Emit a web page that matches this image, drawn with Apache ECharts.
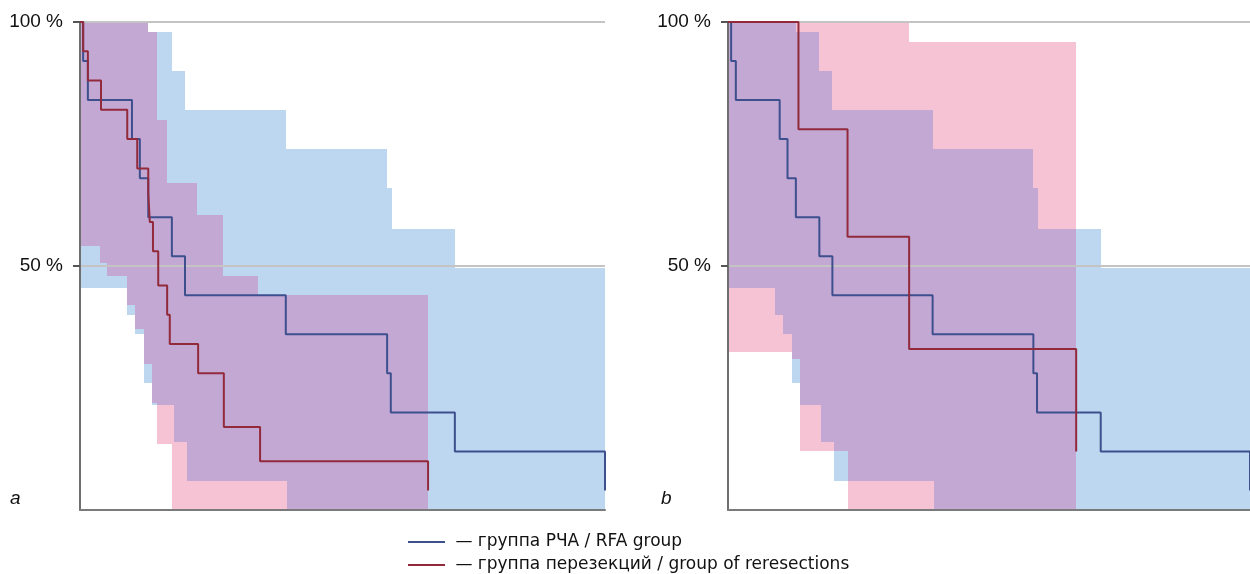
<!DOCTYPE html>
<html>

<head>
    <meta charset="utf-8" />
    <title>Survival</title>
    <script src="https://cdn.jsdelivr.net/npm/echarts@6.0.0/dist/echarts.min.js"></script>
</head>

<body style="margin:0">
    <div id="main" style="width:1250px;height:574px;"></div>

    <script type="text/javascript">
        // Kaplan-Meier steps: [time, survival %]; time is in arbitrary units (0..100)
        var rfaCurve = [[0, 100], [0.6, 92], [1.5, 84], [9.9, 76], [11.4, 68], [13.0, 60], [17.5, 52], [20.0, 44],
            [39.2, 36], [58.5, 28], [59.2, 20], [71.4, 12], [100, 4]];
        var reCurveA = [[0, 100], [0.6, 94], [1.5, 88], [4.0, 82], [9.0, 76], [10.9, 70], [13.0, 65], [13.3, 59],
            [13.9, 53], [14.9, 46], [16.6, 40], [17.1, 34], [22.5, 28], [27.4, 17], [34.3, 10], [66.3, 4]];
        var reCurveB = [[0, 100], [13.5, 78], [22.9, 56], [34.7, 33], [66.7, 12]];

        // confidence bands as steps: [time, bound %], each one holds until the next time
        var rfaUpper = [[0, 100], [13.0, 98], [17.5, 90], [20.0, 82], [39.2, 74], [58.5, 66], [59.4, 57.5], [71.4, 49.5]];
        var rfaLower = [[0, 45.5], [9.0, 40], [10.5, 36], [12.2, 26], [13.7, 21.5], [17.9, 14], [20.4, 6], [39.4, 0]];
        var rfaEnd = 100;

        var reUpperA = [[0, 100], [13.0, 98], [14.7, 80], [16.6, 67], [22.3, 60.5], [27.2, 48], [33.9, 44]];
        var reLowerA = [[0, 54], [3.8, 50.6], [5.1, 48], [9.0, 42], [10.5, 37], [12.2, 30], [13.7, 22], [14.7, 13.5], [17.5, 0]];
        var reEndA = 66.3;

        var reUpperB = [[0, 100], [34.7, 96]];
        var reLowerB = [[0, 32.4], [12.2, 31], [13.7, 12], [22.9, 0]];
        var reEndB = 66.7;

        var nameRfa = 'группа РЧА / RFA group';
        var nameRe = 'группа перезекций / group of reresections';

        var FONT = "'Liberation Sans', Arial, sans-serif";

        function stepAt(steps, x) {
            var v = steps[0][1];
            for (var i = 0; i < steps.length; i++) {
                if (steps[i][0] <= x) v = steps[i][1];
            }
            return v;
        }

        function breakpoints(lists, end) {
            var xs = [];
            lists.forEach(function (steps) {
                steps.forEach(function (p) {
                    if (p[0] < end && xs.indexOf(p[0]) < 0) xs.push(p[0]);
                });
            });
            xs.sort(function (a, b) { return a - b; });
            xs.push(end);
            return xs;
        }

        // turn upper/lower steps into [x0, x1, lo, hi] boxes
        function bandRects(upper, lower, end) {
            var xs = breakpoints([upper, lower], end);
            var out = [];
            for (var i = 0; i < xs.length - 1; i++) {
                out.push([xs[i], xs[i + 1], stepAt(lower, xs[i]), stepAt(upper, xs[i])]);
            }
            return out;
        }

        // where both bands cover the same place
        function overlapRects(uA, lA, endA, uB, lB, endB) {
            var end = Math.min(endA, endB);
            var xs = breakpoints([uA, lA, uB, lB], end);
            var out = [];
            for (var i = 0; i < xs.length - 1; i++) {
                var x = xs[i];
                var hi = Math.min(stepAt(uA, x), stepAt(uB, x));
                var lo = Math.max(stepAt(lA, x), stepAt(lB, x));
                if (hi > lo) out.push([x, xs[i + 1], lo, hi]);
            }
            return out;
        }

        function renderBand(color) {
            return function (params, api) {
                var p0 = api.coord([api.value(0), api.value(3)]);
                var p1 = api.coord([api.value(1), api.value(2)]);
                var x = Math.round(p0[0]), y = Math.round(p0[1]);
                return {
                    type: 'rect',
                    shape: { x: x, y: y, width: Math.round(p1[0]) - x, height: Math.round(p1[1]) - y },
                    style: { fill: color }
                };
            };
        }

        var pinkFill = '#f5c3d3';
        var blueFill = '#bed7f0';
        var purpleFill = '#c3a8d4';
        var blueLine = '#3e4f8e';
        var redLine = '#932a3c';

        function band(idx, rects, color, z) {
            return {
                type: 'custom',
                xAxisIndex: idx,
                yAxisIndex: idx,
                renderItem: renderBand(color),
                data: rects,
                encode: { x: [0, 1], y: [2, 3] },
                silent: true,
                clip: true,
                z: z
            };
        }

        function curve(idx, name, data, color) {
            return {
                type: 'line',
                name: name,
                xAxisIndex: idx,
                yAxisIndex: idx,
                step: 'end',
                symbol: 'none',
                data: data,
                lineStyle: { color: color, width: 2 },
                itemStyle: { color: color },
                silent: true,
                z: 5
            };
        }

        function xAxisFor(idx) {
            return {
                type: 'value', gridIndex: idx, min: 0, max: 100, z: 3,
                axisLine: { show: true, lineStyle: { color: '#7a7a7a', width: 2 } },
                axisTick: { show: false },
                axisLabel: { show: false },
                splitLine: { show: false }
            };
        }

        function yAxisFor(idx) {
            return {
                type: 'value', gridIndex: idx, min: 0, max: 100, interval: 50, z: 3,
                axisLine: { show: true, lineStyle: { color: '#6f6f6f', width: 2 } },
                axisTick: { show: true, length: 7, customValues: [50, 100], lineStyle: { color: '#555', width: 2 } },
                axisLabel: {
                    margin: 17, color: '#111', fontSize: 19, fontFamily: FONT,
                    formatter: function (v) { return v === 0 ? '' : v + ' %'; }
                },
                splitLine: { show: true, lineStyle: { color: '#c4c4c4', width: 2 } }
            };
        }

        var myChart = echarts.init(document.getElementById('main'));

        var option = {
            animation: false,
            title: [
                { text: 'a', left: 5, top: 484, textStyle: { fontStyle: 'italic', fontWeight: 'normal', fontSize: 19, fontFamily: FONT, color: '#111' } },
                { text: 'b', left: 656, top: 484, textStyle: { fontStyle: 'italic', fontWeight: 'normal', fontSize: 19, fontFamily: FONT, color: '#111' } }
            ],
            legend: {
                data: [nameRfa, nameRe],
                orient: 'vertical',
                left: 408,
                top: 533,
                padding: 0,
                icon: 'rect',
                itemWidth: 37,
                itemHeight: 2,
                itemGap: 5,
                formatter: ' — {name}',
                textStyle: { fontSize: 17, lineHeight: 18, fontFamily: "'DejaVu Sans', sans-serif", color: '#111' }
            },
            grid: [
                { left: 80, top: 22, width: 525, height: 488 },
                { left: 728, top: 22, width: 525, height: 488 }
            ],
            xAxis: [xAxisFor(0), xAxisFor(1)],
            yAxis: [yAxisFor(0), yAxisFor(1)],
            series: [
                band(0, bandRects(reUpperA, reLowerA, reEndA), pinkFill, 1),
                band(0, bandRects(rfaUpper, rfaLower, rfaEnd), blueFill, 1),
                band(0, overlapRects(reUpperA, reLowerA, reEndA, rfaUpper, rfaLower, rfaEnd), purpleFill, 2),
                curve(0, nameRfa, rfaCurve, blueLine),
                curve(0, nameRe, reCurveA, redLine),
                band(1, bandRects(reUpperB, reLowerB, reEndB), pinkFill, 1),
                band(1, bandRects(rfaUpper, rfaLower, rfaEnd), blueFill, 1),
                band(1, overlapRects(reUpperB, reLowerB, reEndB, rfaUpper, rfaLower, rfaEnd), purpleFill, 2),
                curve(1, nameRfa, rfaCurve, blueLine),
                curve(1, nameRe, reCurveB, redLine)
            ]
        };

        myChart.setOption(option);
    </script>
</body>

</html>
